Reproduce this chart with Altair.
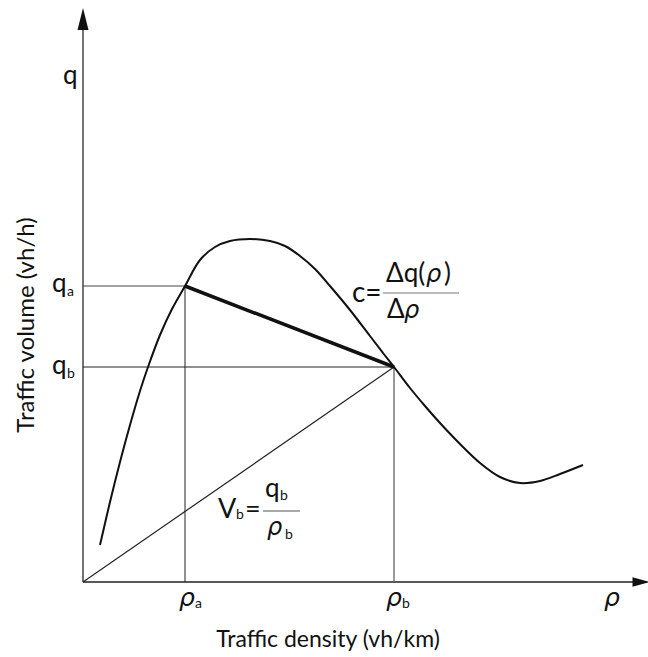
import altair as alt
import pandas as pd

# Flow-density curve q(rho), sampled along the density axis
rho = [17, 27, 37, 47, 57, 65, 77, 89, 102, 117, 132, 147, 167, 187, 202, 217,
       232, 247, 267, 287, 300, 311, 327, 342, 357, 377, 397, 417, 437, 457,
       477, 500]
q = [37, 80, 120, 157, 191, 215, 247, 273, 296, 322, 335, 341, 343, 341, 336,
     326, 313, 296, 272, 246, 229, 215, 194, 176, 159, 138, 119, 105, 99, 101,
     108, 117]

# Two operating states on the curve
rho_a, q_a = 102, 296
rho_b, q_b = 311, 215

X_DOMAIN = [-83, 565]
Y_DOMAIN = [-75, 582]
XS = alt.Scale(domain=X_DOMAIN, nice=False, zero=False)
YS = alt.Scale(domain=Y_DOMAIN, nice=False, zero=False)
FONT = "Lato"
GREEK = "DejaVu Sans"
INK = "#111111"


def seg(x1, y1, x2, y2, width=1.0, color="#222222"):
    return alt.Chart().mark_rule(strokeWidth=width, color=color).encode(
        x=alt.XDatum(x1, scale=XS, axis=None),
        y=alt.YDatum(y1, scale=YS, axis=None),
        x2=alt.X2Datum(x2),
        y2=alt.Y2Datum(y2),
    )


def label(text, x, y, size=26, italic=False, align="left", angle=0,
          font=FONT):
    kw = dict(align=align, baseline="alphabetic", font=font, fontSize=size,
              color=INK, text=text)
    if italic:
        kw["fontStyle"] = "italic"
    if angle:
        kw["angle"] = angle
    return alt.Chart().mark_text(**kw).encode(
        x=alt.XDatum(x, scale=XS, axis=None),
        y=alt.YDatum(y, scale=YS, axis=None),
    )


def rho_sym(x, y, size=25):
    return label("ρ", x, y, size, italic=True, font=GREEK)


def arrow(x, y, path, size):
    return alt.Chart().mark_point(shape=path, size=size, filled=True,
                                  color=INK, opacity=1, strokeWidth=0).encode(
        x=alt.XDatum(x, scale=XS, axis=None),
        y=alt.YDatum(y, scale=YS, axis=None),
    )


curve_df = pd.DataFrame({"rho": rho, "q": q})
curve = alt.Chart(curve_df).mark_line(
    interpolate="catmull-rom", color=INK, strokeWidth=2
).encode(
    x=alt.X("rho:Q", scale=XS, axis=None),
    y=alt.Y("q:Q", scale=YS, axis=None),
)

SUB = 14

layers = [
    # axes with arrow heads
    seg(0, 0, 0, 563, 1.5, "#444444"),
    seg(0, 0, 550, 0, 1.5, "#222222"),
    arrow(0, 563, "M0,-1L0.5,1L-0.5,1Z", 484),
    arrow(558, 0, "M-1,-0.55L1,0L-1,0.55Z", 289),
    # guide lines to the two states
    seg(0, q_a, rho_a, q_a, 1.2, "#444444"),
    seg(rho_a, 0, rho_a, q_a, 1.0),
    seg(0, q_b, rho_b, q_b, 1.0),
    seg(rho_b, 0, rho_b, q_b, 1.2, "#555555"),
    # speed ray from the origin and the wave-speed chord
    seg(0, 0, rho_b, q_b, 1.2),
    curve,
    seg(rho_a, q_a, rho_b, q_b, 3.5, INK),
    # axis symbols
    label("q", -20, 498),
    label("q", -31, 290), label("a", -16, 286, SUB),
    label("q", -31, 208), label("b", -16, 204, SUB),
    rho_sym(rho_a - 6, -24), label("a", rho_a + 10, -26, SUB),
    rho_sym(rho_b - 8, -24), label("b", rho_b + 8, -26, SUB),
    rho_sym(521, -24),
    # axis titles
    label("Traffic density (vh/km)", 245, -65, 23, align="center"),
    label("Traffic volume (vh/h)", -49, 257, 24, align="center", angle=270),
    # wave speed c = Δq(ρ)/Δρ
    label("c=", 269, 280, 28),
    label("Δq(", 303, 300), rho_sym(343, 300, 24),
    label(")", 361, 300),
    seg(300, 289, 376, 289, 1.2, "#777777"),
    label("Δ", 304, 264), rho_sym(321, 264, 24),
    # space-mean speed V_b = q_b / ρ_b
    label("V", 135, 64, 27), label("b", 153, 63, SUB), label("=", 162, 64, 27),
    seg(180, 71, 217, 71, 1.2, "#555555"),
    label("q", 182, 85), label("b", 197, 82, SUB),
    rho_sym(184, 47, 24), label("b", 202, 43, SUB),
]

chart = alt.layer(*layers).properties(
    width=648, height=657, padding=0, autosize="none",
    background="white",
).configure_view(stroke=None)

chart.save("out.html", embed_options={"renderer": "svg", "actions": False})
